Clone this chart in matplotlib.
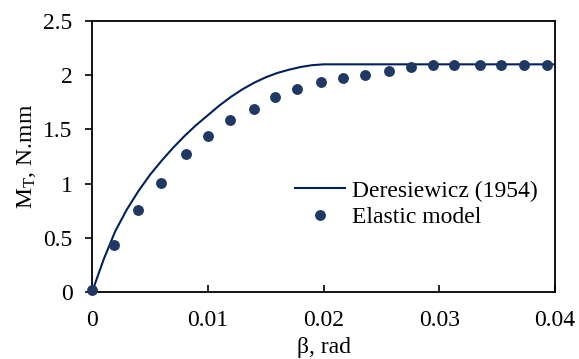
import matplotlib
matplotlib.use('Agg')
import matplotlib.pyplot as plt

# Deresiewicz (1954) curve
beta_line = [0, 0.0005, 0.001, 0.0015, 0.002, 0.003, 0.004, 0.005, 0.006, 0.007,
             0.008, 0.009, 0.010, 0.011, 0.012, 0.013, 0.014, 0.015, 0.016,
             0.017, 0.018, 0.019, 0.020, 0.040]
mt_line = [0, 0.15, 0.30, 0.43, 0.56, 0.76, 0.93, 1.08, 1.21, 1.33,
           1.44, 1.54, 1.63, 1.72, 1.80, 1.87, 1.93, 1.98, 2.02,
           2.05, 2.075, 2.092, 2.10, 2.10]

# elastic model points
beta_pts = [0, 0.0019, 0.0040, 0.0060, 0.0081, 0.0100, 0.0119, 0.0140, 0.0158, 0.0177,
            0.0198, 0.0217, 0.0236, 0.0257, 0.0276, 0.0295, 0.0313, 0.0335, 0.0353,
            0.0373, 0.0393]
mt_pts = [0.02, 0.43, 0.76, 1.01, 1.27, 1.44, 1.59, 1.69, 1.80, 1.875,
          1.935, 1.97, 2.005, 2.04, 2.08, 2.097, 2.097, 2.097, 2.097,
          2.097, 2.097]

plt.rcParams['font.family'] = ['Liberation Serif', 'DejaVu Serif']
plt.rcParams['mathtext.fontset'] = 'custom'
plt.rcParams['mathtext.rm'] = 'Liberation Serif'
plt.rcParams['mathtext.it'] = 'Liberation Serif:italic'
plt.rcParams['font.size'] = 17

fig = plt.figure(figsize=(5.79, 3.59), dpi=100)
ax = fig.add_axes([0.159, 0.1866, 0.7995, 0.755])

ax.plot(beta_line, mt_line, color='#002060', lw=1.5, label='Deresiewicz (1954)')
ax.plot(beta_pts, mt_pts, 'o', color='#1F3864', ms=6.8, ls='none',
        label='Elastic model', clip_on=False, zorder=3)

ax.set_xlim(0, 0.04)
ax.set_ylim(0, 2.5)
ax.set_xticks([0, 0.01, 0.02, 0.03, 0.04])
ax.set_xticklabels(['0', '0.01', '0.02', '0.03', '0.04'])
ax.set_yticks([0, 0.5, 1, 1.5, 2, 2.5])
ax.set_yticklabels(['0', '0.5', '1', '1.5', '2', '2.5'])
ax.tick_params(axis='x', direction='in', length=5, width=1.2, pad=13)
ax.tick_params(axis='y', direction='out', length=5, width=1.2, pad=9)
for s in ax.spines.values():
    s.set_linewidth(1.3)

ax.set_xlabel('β, rad', labelpad=4)
ax.set_ylabel(r'M$_{\mathrm{T}}$, N.mm', labelpad=4)

ax.legend(loc='center left', bbox_to_anchor=(0.393, 0.325), frameon=False,
          handlelength=2.1, handletextpad=0.3, labelspacing=0.2)

fig.savefig('out.png', dpi=100)
